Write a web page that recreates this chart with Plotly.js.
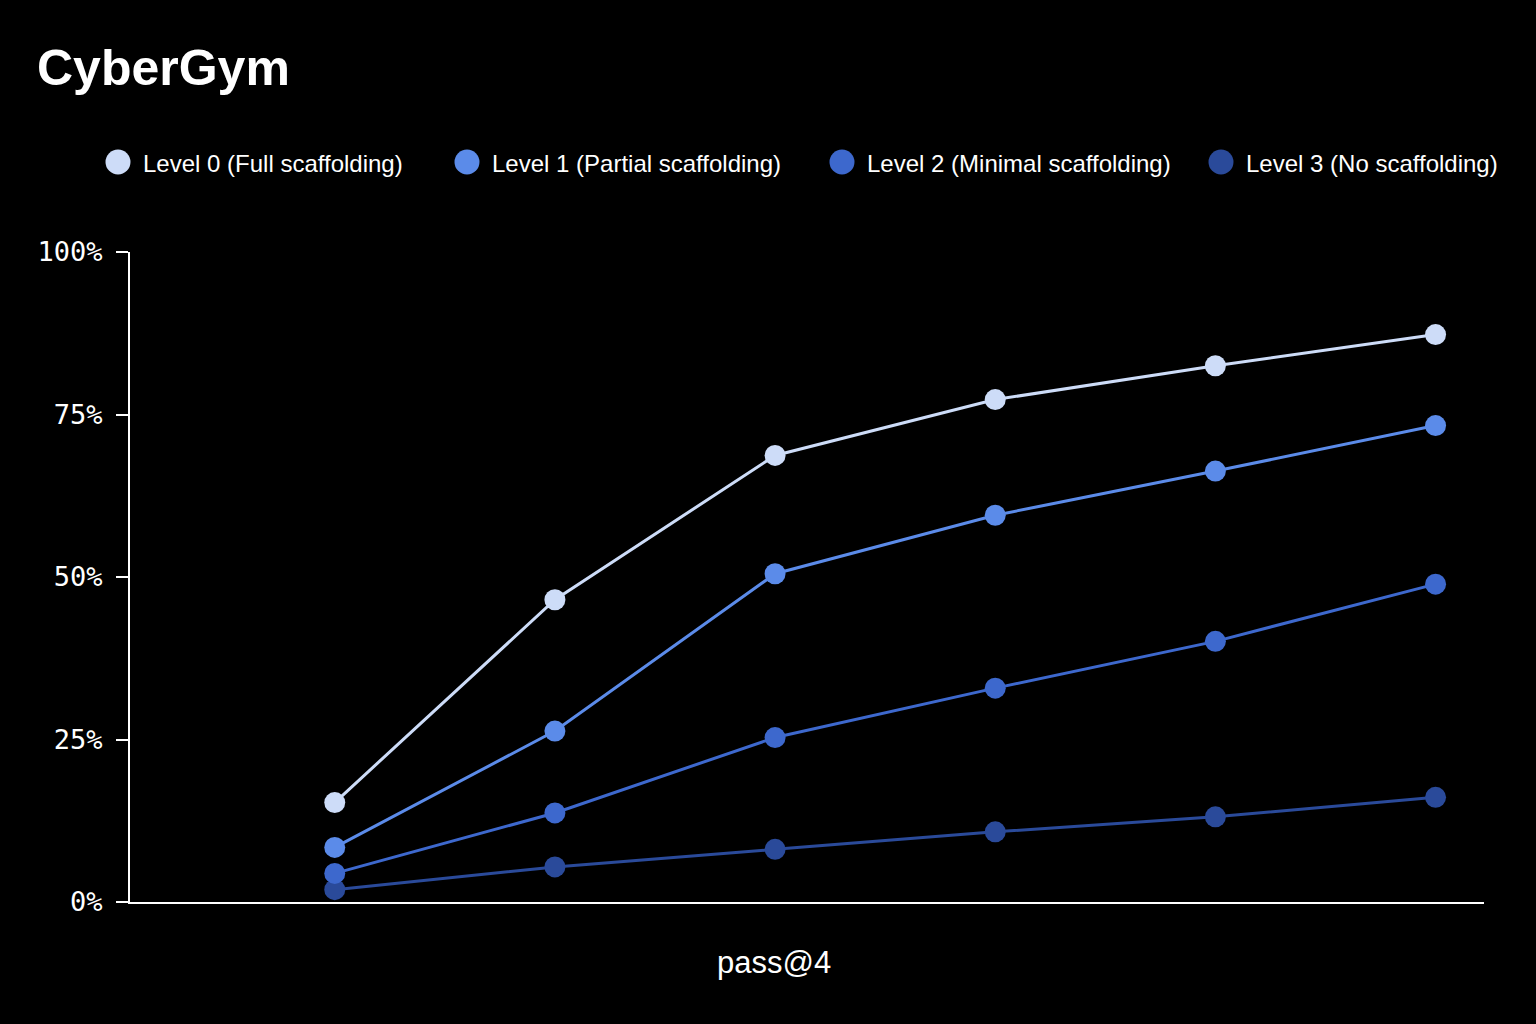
<!DOCTYPE html>
<html>
<head>
<meta charset="utf-8">
<script src="https://cdn.plot.ly/plotly-3.0.1.min.js"></script>
<style>
  html, body { margin: 0; padding: 0; background: #000; }
  #chart { width: 1536px; height: 1024px; }
</style>
</head>
<body>
<div id="chart"></div>
<script>
// ---- Data ----
const chartTitle = "CyberGym";
const xAxisLabel = "pass@4";
const attempts = [1, 2, 3, 4, 5, 6];
const seriesNames = [
  "Level 0 (Full scaffolding)",
  "Level 1 (Partial scaffolding)",
  "Level 2 (Minimal scaffolding)",
  "Level 3 (No scaffolding)"
];
const level0 = [15.3, 46.5, 68.7, 77.3, 82.5, 87.3];
const level1 = [8.4, 26.3, 50.5, 59.5, 66.3, 73.3];
const level2 = [4.4, 13.7, 25.3, 32.9, 40.1, 48.9];
const level3 = [1.9, 5.4, 8.1, 10.8, 13.1, 16.1];
const yTickVals = [0, 25, 50, 75, 100];
const yTickText = ["0%", "25%", "50%", "75%", "100%"];

// ---- Styles ----
const colors = ["#cddcf8", "#5b8be9", "#3d68cd", "#2a4a9a"];
const seriesValues = [level0, level1, level2, level3];

const W = 1536, H = 1024;
const margin = { l: 130, r: 52, t: 252, b: 122 };
const plotW = W - margin.l - margin.r;
const plotH = H - margin.t - margin.b;
const px2paperX = px => (px - margin.l) / plotW;
const px2paperY = py => (H - margin.b - py) / plotH;

const traces = seriesValues.map((vals, i) => ({
  type: "scatter",
  mode: "lines+markers",
  name: seriesNames[i],
  x: attempts,
  y: vals,
  line: { color: colors[i], width: 3 },
  marker: { color: colors[i], size: 21 },
  showlegend: false,
  hoverinfo: "skip"
}));
traces.reverse();

// custom legend (large circular swatches)
const legendMarkerX = [118, 467, 842, 1221];
const legendY = 162;
const shapes = [];
const annotations = [];
seriesNames.forEach((nm, i) => {
  const cx = legendMarkerX[i];
  shapes.push({
    type: "circle", xref: "paper", yref: "paper",
    x0: px2paperX(cx - 12.5), x1: px2paperX(cx + 12.5),
    y0: px2paperY(legendY + 12.5), y1: px2paperY(legendY - 12.5),
    fillcolor: colors[i], line: { width: 0 }
  });
  annotations.push({
    xref: "paper", yref: "paper",
    x: px2paperX(cx + 23), y: px2paperY(legendY + 1),
    xanchor: "left", yanchor: "middle",
    text: nm, showarrow: false,
    font: { family: "Liberation Sans, Arial, sans-serif", size: 24, color: "#ffffff" }
  });
});
annotations.push({
  xref: "paper", yref: "paper",
  x: px2paperX(774), y: px2paperY(962),
  xanchor: "center", yanchor: "middle",
  text: xAxisLabel, showarrow: false,
  font: { family: "Liberation Sans, Arial, sans-serif", size: 31, color: "#ffffff" }
});

const layout = {
  width: W, height: H,
  paper_bgcolor: "#000000",
  plot_bgcolor: "#000000",
  margin: margin,
  showlegend: false,
  title: {
    text: "<b>" + chartTitle + "</b>",
    x: 37 / W, xanchor: "left", xref: "container",
    y: 1 - 67 / H, yanchor: "middle", yref: "container",
    font: { family: "Liberation Sans, Arial, sans-serif", size: 50, color: "#ffffff" }
  },
  xaxis: {
    range: [0.07, 6.22],
    showgrid: false, zeroline: false,
    showline: true, linecolor: "#ffffff", linewidth: 2,
    showticklabels: false, ticks: "",
    fixedrange: true
  },
  yaxis: {
    range: [0, 100],
    tickvals: yTickVals, ticktext: yTickText,
    showgrid: false, zeroline: false,
    showline: true, linecolor: "#ffffff", linewidth: 2,
    ticks: "outside", ticklen: 12, tickwidth: 2, tickcolor: "#ffffff",
    ticklabelstandoff: 8,
    tickfont: { family: "DejaVu Sans Mono, monospace", size: 27, color: "#ffffff" },
    fixedrange: true
  },
  shapes: shapes,
  annotations: annotations
};

Plotly.newPlot("chart", traces, layout, { displayModeBar: false, staticPlot: true });
</script>
</body>
</html>
